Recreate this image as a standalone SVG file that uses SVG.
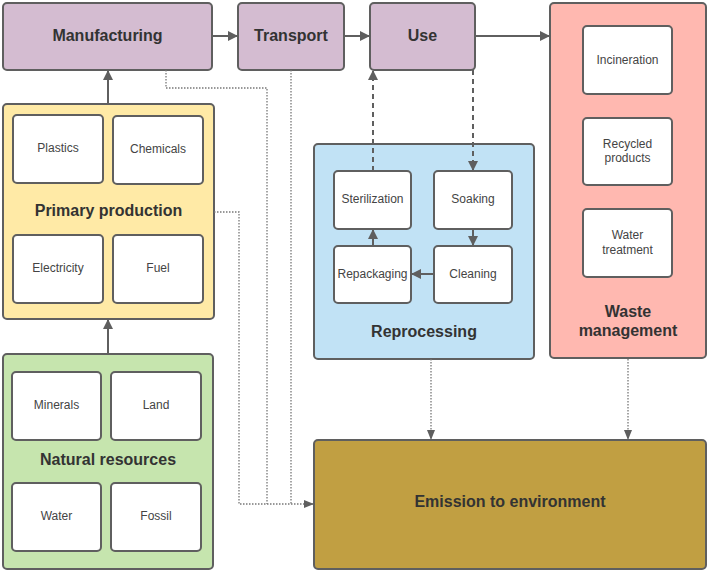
<svg xmlns="http://www.w3.org/2000/svg" width="709" height="572" viewBox="0 0 709 572">
<style>
.box{stroke:#5f5f5f;stroke-width:2}
.w{fill:#ffffff}
.pu{fill:#d4bcd1}
.ye{fill:#ffeaa6}
.gr{fill:#c6e5ae}
.bl{fill:#c1e2f5}
.pk{fill:#ffb8b0}
.em{fill:#c19f42}
.t{font-family:"Liberation Sans",Arial,sans-serif;font-size:12px;fill:#444;text-anchor:middle}
.h{font-family:"Liberation Sans",Arial,sans-serif;font-size:16px;font-weight:bold;fill:#333;text-anchor:middle}
.c{fill:none;stroke:#5f5f5f;stroke-width:2}
.d{fill:none;stroke:#5f5f5f;stroke-width:2;stroke-dasharray:5,4}
.o{fill:none;stroke:#777;stroke-width:1.3;stroke-dasharray:1.5,1.5}
</style>
<defs>
<marker id="a" markerWidth="10" markerHeight="10" refX="9" refY="5" orient="auto" markerUnits="userSpaceOnUse">
<path d="M0,0 L10,5 L0,10 z" fill="#5f5f5f"/>
</marker>
<marker id="s" markerWidth="10" markerHeight="10" refX="9" refY="5" orient="auto" markerUnits="userSpaceOnUse">
<path d="M0,1 L10,5 L0,9 z" fill="#5f5f5f"/>
</marker>
</defs>

<g id="manufacturing"><rect class="box pu" x="3" y="3" width="209" height="67" rx="4"/><text class="h" x="107.5" y="41">Manufacturing</text></g>
<g id="transport"><rect class="box pu" x="238" y="3" width="106" height="67" rx="4"/><text class="h" x="291" y="41">Transport</text></g>
<g id="use"><rect class="box pu" x="370" y="3" width="105" height="67" rx="4"/><text class="h" x="422.5" y="41">Use</text></g>

<g id="waste-management"><rect class="box pk" x="550" y="3" width="156" height="355" rx="4"/>
<text class="h" x="628" y="317">Waste</text><text class="h" x="628" y="336">management</text></g>
<g id="incineration"><rect class="box w" x="583" y="26" width="89" height="68" rx="4"/><text class="t" x="627.5" y="64">Incineration</text></g>
<g id="recycled-products"><rect class="box w" x="583" y="118" width="89" height="67" rx="4"/><text class="t" x="627.5" y="148">Recycled</text><text class="t" x="627.5" y="162">products</text></g>
<g id="water-treatment"><rect class="box w" x="583" y="209" width="89" height="68" rx="4"/><text class="t" x="627.5" y="239">Water</text><text class="t" x="627.5" y="254">treatment</text></g>

<g id="primary-production"><rect class="box ye" x="3" y="104" width="211" height="215" rx="4"/><text class="h" x="108.5" y="216">Primary production</text></g>
<g id="plastics"><rect class="box w" x="13" y="115" width="90" height="68" rx="4"/><text class="t" x="58" y="152">Plastics</text></g>
<g id="chemicals"><rect class="box w" x="113" y="116" width="90" height="68" rx="4"/><text class="t" x="158" y="153">Chemicals</text></g>
<g id="electricity"><rect class="box w" x="13" y="235" width="90" height="68" rx="4"/><text class="t" x="58" y="272">Electricity</text></g>
<g id="fuel"><rect class="box w" x="113" y="235" width="90" height="68" rx="4"/><text class="t" x="158" y="272">Fuel</text></g>

<g id="natural-resources"><rect class="box gr" x="3" y="354" width="210" height="215" rx="4"/><text class="h" x="108" y="465">Natural resources</text></g>
<g id="minerals"><rect class="box w" x="12" y="372" width="89" height="68" rx="4"/><text class="t" x="56.5" y="409">Minerals</text></g>
<g id="land"><rect class="box w" x="111" y="372" width="90" height="68" rx="4"/><text class="t" x="156" y="409">Land</text></g>
<g id="water"><rect class="box w" x="12" y="483" width="89" height="68" rx="4"/><text class="t" x="56.5" y="520">Water</text></g>
<g id="fossil"><rect class="box w" x="111" y="483" width="90" height="68" rx="4"/><text class="t" x="156" y="520">Fossil</text></g>

<g id="reprocessing"><rect class="box bl" x="314" y="144" width="220" height="215" rx="4"/><text class="h" x="424" y="337">Reprocessing</text></g>
<g id="sterilization"><rect class="box w" x="334" y="171" width="77" height="58" rx="4"/><text class="t" x="372.5" y="203">Sterilization</text></g>
<g id="soaking"><rect class="box w" x="434" y="171" width="78" height="58" rx="4"/><text class="t" x="473" y="203">Soaking</text></g>
<g id="repackaging"><rect class="box w" x="334" y="246" width="77" height="57" rx="4"/><text class="t" x="372.5" y="278">Repackaging</text></g>
<g id="cleaning"><rect class="box w" x="434" y="246" width="78" height="57" rx="4"/><text class="t" x="473" y="278">Cleaning</text></g>

<g id="emission"><rect class="box em" x="314" y="440" width="392" height="129" rx="4"/><text class="h" x="510" y="507">Emission to environment</text></g>

<g id="connectors">
<path class="c" d="M212,36 H237" marker-end="url(#a)"/>
<path class="c" d="M344,36 H369" marker-end="url(#a)"/>
<path class="c" d="M475,36 H549" marker-end="url(#a)"/>
<path class="c" d="M108,104 V71" marker-end="url(#a)"/>
<path class="c" d="M108,354 V320" marker-end="url(#a)"/>
<path class="d" d="M373,171 V71" marker-end="url(#a)"/>
<path class="d" d="M473,70 V170" marker-end="url(#a)"/>
<path class="c" d="M473,229 V245" marker-end="url(#a)"/>
<path class="c" d="M434,274 H412" marker-end="url(#a)"/>
<path class="c" d="M373,246 V230" marker-end="url(#a)"/>
<path class="o" d="M431,359 V439" marker-end="url(#s)"/>
<path class="o" d="M628,359 V439" marker-end="url(#s)"/>
<path class="o" d="M166,70 V88 H267 V504"/>
<path class="o" d="M291,70 V504"/>
<path class="o" d="M214,212 H239 V504 H313" marker-end="url(#s)"/>
</g>
</svg>
